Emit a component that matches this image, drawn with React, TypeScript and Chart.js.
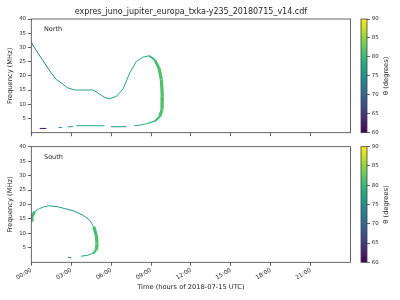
import React, { useEffect, useRef } from "react";
import { Chart, registerables } from "chart.js";
Chart.register(...registerables);

const TITLE = "expres_juno_jupiter_europa_txka-y235_20180715_v14.cdf";
const X_LABEL = "Time (hours of 2018-07-15 UTC)";
const Y_LABEL = "Frequency (MHz)";
const CB_LABEL = "θ (degrees)";
const HOUR_TICKS = [0, 3, 6, 9, 12, 15, 18, 21];
const FREQ_TICKS = [5, 10, 15, 20, 25, 30, 35, 40];
const THETA_TICKS = [60, 65, 70, 75, 80, 85, 90];

// North hemisphere emission (null = gap)
const northHour = [
  0, 0.5, 1.0, 1.5, 1.88, 2.25, 2.75, 3.25, 4.0, 4.63, 5.0, 5.5, 5.88, 6.4, 6.9, 7.4, 7.9, 8.4, 8.85, 9.28, 9.6, 9.78, 9.85, 9.83, 9.65, 9.28, 8.78, 8.15, 7.75,
  null, 0.63, 1.13,
  null, 2.05, 2.3,
  null, 2.75, 3.13,
  null, 3.38, 5.5,
  null, 6.0, 7.15,
];
const northFreq = [
  31.7, 28.0, 24.5, 21.0, 18.7, 17.5, 15.75, 15.05, 15.0, 15.05, 14.0, 12.5, 11.9, 12.8, 15.4, 21.0, 25.1, 26.6, 27.05, 25.65, 22.75, 18.65, 12.8, 8.15, 5.6, 4.05, 3.25, 2.65, 2.45,
  null, 1.5, 1.5,
  null, 1.85, 1.85,
  null, 2.1, 2.1,
  null, 2.45, 2.45,
  null, 2.1, 2.1,
];
const northTheta = [
  72, 72, 72.5, 73, 74, 76.5, 77, 77.5, 77.5, 77, 76.5, 76.5, 77, 77.5, 78, 78, 78, 78, 78.5, 80.5, 81.5, 81.5, 81.5, 81.5, 81, 80.5, 79.5, 78.5, 78,
  null, 61, 61,
  null, 74, 74,
  null, 76, 76,
  null, 78.5, 78.5,
  null, 75, 75,
];

// South hemisphere emission
const southHour = [
  0, 0.05, 0.25, 0.63, 1.0, 1.38, 2.0, 2.5, 3.25, 3.88, 4.38, 4.7, 4.88, 4.95, 4.88, 4.63, 4.25, 3.75,
  null, 2.75, 3.0,
];
const southFreq = [
  14.6, 15.7, 17.5, 18.6, 19.3, 19.55, 19.2, 18.6, 17.7, 16.3, 14.6, 12.3, 9.4, 6.5, 4.2, 3.05, 2.45, 2.1,
  null, 1.65, 1.65,
];
const southTheta = [
  81, 80.5, 79.5, 78.5, 77.5, 77, 76, 75.5, 75, 75.5, 77, 80, 81.5, 81.5, 81.5, 80, 78, 76.5,
  null, 74, 74,
];

const VIRIDIS = ["#440154", "#482475", "#414487", "#355f8d", "#2a788e", "#21918c", "#22a884", "#44bf70", "#7ad151", "#bddf26", "#fde725"];
const TMIN = 60;
const TMAX = 90;

function hex(c: string) {
  return [parseInt(c.slice(1, 3), 16), parseInt(c.slice(3, 5), 16), parseInt(c.slice(5, 7), 16)];
}
function viridis(theta: number) {
  let t = (theta - TMIN) / (TMAX - TMIN);
  t = Math.max(0, Math.min(1, t));
  const p = t * (VIRIDIS.length - 1);
  const i = Math.min(VIRIDIS.length - 2, Math.floor(p));
  const f = p - i;
  const a = hex(VIRIDIS[i]);
  const b = hex(VIRIDIS[i + 1]);
  const m = a.map((v, k) => Math.round(v + (b[k] - v) * f));
  return `rgb(${m[0]},${m[1]},${m[2]})`;
}

const FONT = "DejaVu Sans";
const TEXT = "#262626";
const AXIS = "#404040";

function framePlugin(extra?: (chart: any) => void) {
  return {
    id: "frame",
    afterDraw(chart: any) {
      const { ctx, chartArea: a } = chart;
      ctx.save();
      ctx.strokeStyle = AXIS;
      ctx.lineWidth = 0.8;
      ctx.strokeRect(a.left, a.top, a.right - a.left, a.bottom - a.top);
      ctx.restore();
      if (extra) extra(chart);
    },
  };
}

type PanelProps = {
  hours: (number | null)[];
  freq: (number | null)[];
  theta: (number | null)[];
  name: string;
  top: number;
  height: number;
  padTop: number;
  xHeight: number;
  showXLabels: boolean;
  title?: string;
};

function Panel(p: PanelProps) {
  const ref = useRef<HTMLCanvasElement>(null);
  useEffect(() => {
    const data = p.hours.map((h, i) => ({ x: h, y: p.freq[i] }));
    const th = (ctx: any) => {
      const a = p.theta[ctx.p0DataIndex] ?? 75;
      const b = p.theta[ctx.p1DataIndex] ?? a;
      return (a + b) / 2;
    };
    const chart = new Chart(ref.current!, {
      type: "line",
      data: {
        datasets: [
          {
            data: data as any,
            borderColor: viridis(76),
            borderWidth: 1,
            borderCapStyle: "butt",
            pointRadius: 0,
            spanGaps: false,
            tension: 0,
            segment: {
              borderColor: (ctx: any) => viridis(th(ctx)),
              borderWidth: (ctx: any) => {
                const t = th(ctx);
                const dx = ctx.p1.x - ctx.p0.x;
                const dy = ctx.p1.y - ctx.p0.y;
                const s = Math.abs(dy) / (Math.hypot(dx, dy) || 1);
                return 1 + (t >= 79.5 ? 2.3 * s * s : 0);
              },
            },
          } as any,
        ],
      },
      options: {
        animation: false,
        responsive: false,
        events: [],
        layout: { padding: { top: p.padTop, right: 9.5, left: 0, bottom: 0 } },
        plugins: { legend: { display: false }, tooltip: { enabled: false }, title: { display: false } },
        scales: {
          x: {
            type: "linear",
            min: 0,
            max: 24,
            afterBuildTicks: (s: any) => {
              s.ticks = HOUR_TICKS.map((v) => ({ value: v }));
            },
            afterFit: (s: any) => {
              s.height = p.xHeight;
            },
            border: { display: false },
            grid: { drawOnChartArea: false, drawTicks: true, tickLength: 3.5, color: AXIS, lineWidth: 0.8 },
            ticks: {
              display: p.showXLabels,
              minRotation: 30,
              maxRotation: 30,
              padding: 1,
              color: TEXT,
              font: { family: FONT, size: 5.8 },
              callback: (v: any) => `${String(v).padStart(2, "0")}:00`,
            },
            title: {
              display: p.showXLabels,
              text: X_LABEL,
              color: TEXT,
              font: { family: FONT, size: 6.7 },
              padding: { top: 0, bottom: 8.4 },
            },
          },
          y: {
            type: "linear",
            min: 0,
            max: 40,
            afterBuildTicks: (s: any) => {
              s.ticks = FREQ_TICKS.map((v) => ({ value: v }));
            },
            afterFit: (s: any) => {
              s.width = 31.3;
            },
            border: { display: false },
            grid: { drawOnChartArea: false, drawTicks: true, tickLength: 3.5, color: AXIS, lineWidth: 0.8 },
            ticks: { padding: 1.8, color: TEXT, font: { family: FONT, size: 5.4 } },
            title: {
              display: true,
              text: Y_LABEL,
              color: TEXT,
              font: { family: FONT, size: 6.7 },
              padding: { top: 6, bottom: 0 },
            },
          },
        },
      } as any,
      plugins: [
        framePlugin((chart: any) => {
          const { ctx, chartArea: a } = chart;
          ctx.save();
          ctx.fillStyle = TEXT;
          ctx.font = `6.5px "${FONT}"`;
          ctx.textAlign = "left";
          ctx.textBaseline = "middle";
          ctx.fillText(p.name, a.left + 12.7, a.top + 10.3);
          if (p.title) {
            ctx.font = `8px "${FONT}"`;
            ctx.textAlign = "center";
            ctx.fillText(p.title, (a.left + a.right) / 2, 11.5);
          }
          ctx.restore();
        }),
      ],
    });
    return () => chart.destroy();
  }, []);
  return (
    <canvas
      ref={ref}
      width={360}
      height={p.height}
      style={{ position: "absolute", left: 0, top: p.top, width: 360, height: p.height }}
    />
  );
}

function ColorBar({ top, height, padTop, padBottom }: { top: number; height: number; padTop: number; padBottom: number }) {
  const ref = useRef<HTMLCanvasElement>(null);
  useEffect(() => {
    const chart = new Chart(ref.current!, {
      type: "bar",
      data: {
        labels: [""],
        datasets: [
          {
            data: [[TMIN, TMAX]] as any,
            barPercentage: 1,
            categoryPercentage: 1,
            borderWidth: 0,
            backgroundColor: (ctx: any) => {
              const a = ctx.chart.chartArea;
              if (!a) return VIRIDIS[5];
              const g = ctx.chart.ctx.createLinearGradient(0, a.bottom, 0, a.top);
              for (let i = 0; i <= 30; i++) {
                g.addColorStop(i / 30, viridis(TMIN + (TMAX - TMIN) * (i / 30)));
              }
              return g;
            },
          },
        ],
      },
      options: {
        animation: false,
        responsive: false,
        events: [],
        layout: { padding: { top: padTop, bottom: padBottom, left: 6, right: 0 } },
        plugins: { legend: { display: false }, tooltip: { enabled: false } },
        scales: {
          x: { display: false },
          y: {
            position: "right",
            min: TMIN,
            max: TMAX,
            afterBuildTicks: (s: any) => {
              s.ticks = THETA_TICKS.map((v) => ({ value: v }));
            },
            afterFit: (s: any) => {
              s.width = 33;
            },
            border: { display: false },
            grid: { drawOnChartArea: false, drawTicks: true, tickLength: 3, color: AXIS, lineWidth: 0.8 },
            ticks: { padding: 1.8, color: TEXT, font: { family: FONT, size: 5.4 } },
          },
        },
      } as any,
      plugins: [
        framePlugin((chart: any) => {
          const { ctx, chartArea: a } = chart;
          ctx.save();
          ctx.fillStyle = TEXT;
          ctx.font = `6.7px "${FONT}"`;
          ctx.textAlign = "center";
          ctx.textBaseline = "middle";
          ctx.translate(a.right + 19.7, (a.top + a.bottom) / 2);
          ctx.rotate(-Math.PI / 2);
          ctx.fillText(CB_LABEL, 0, 0);
          ctx.restore();
        }),
      ],
    });
    return () => chart.destroy();
  }, []);
  return (
    <canvas
      ref={ref}
      width={45}
      height={height}
      style={{ position: "absolute", left: 355, top, width: 45, height }}
    />
  );
}

export default function App() {
  return (
    <div style={{ position: "fixed", left: 0, top: 0, width: 400, height: 300, background: "#fff", overflow: "hidden" }}>
      <Panel hours={northHour} freq={northFreq} theta={northTheta} name="North" top={0} height={145} padTop={19} xHeight={12.3} showXLabels={false} title={TITLE} />
      <Panel hours={southHour} freq={southFreq} theta={southTheta} name="South" top={140} height={160} padTop={6.7} xHeight={37.7} showXLabels={true} />
      <ColorBar top={0} height={145} padTop={19} padBottom={12.3} />
      <ColorBar top={140} height={160} padTop={6.7} padBottom={37.7} />
    </div>
  );
}
